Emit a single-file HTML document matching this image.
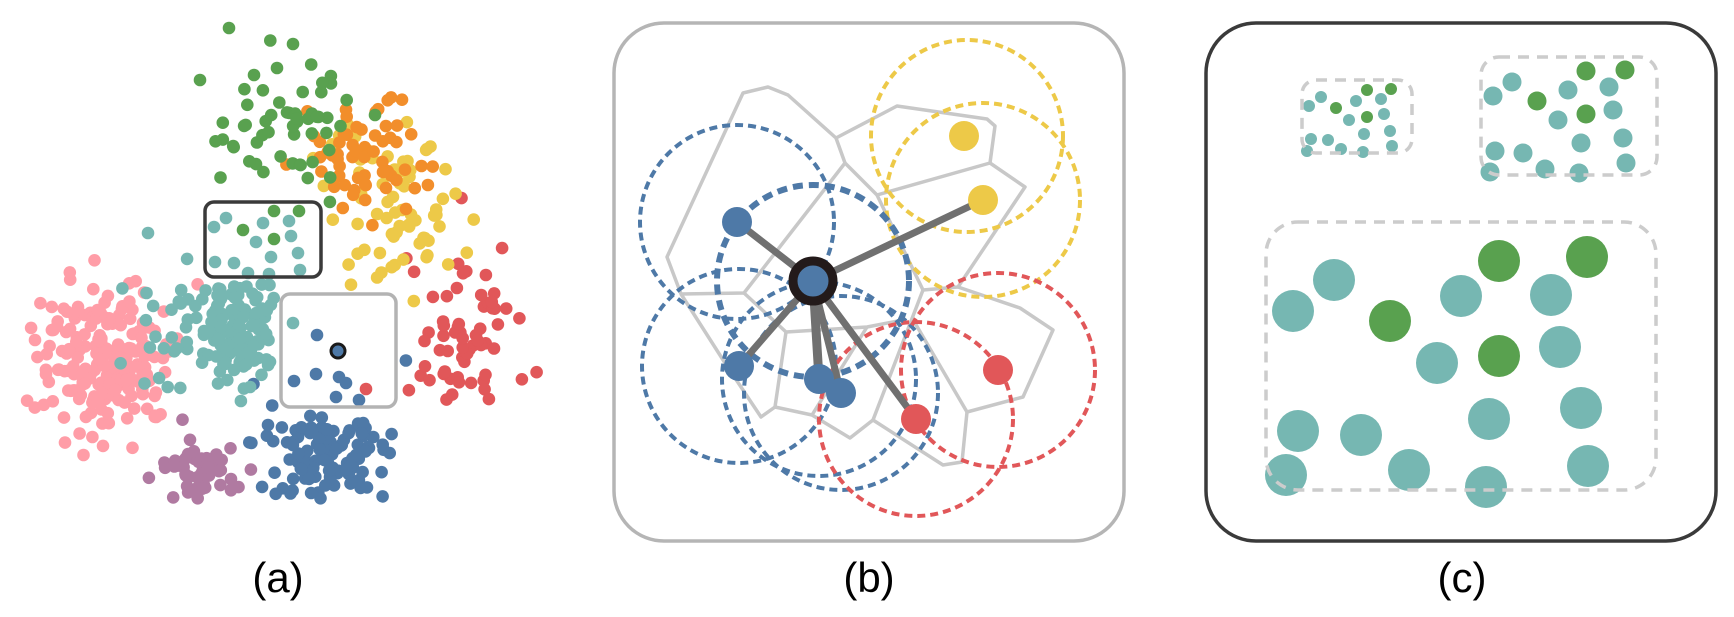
<!DOCTYPE html>
<html><head><meta charset="utf-8">
<style>
html,body{margin:0;padding:0;background:#fff;width:1734px;height:617px;overflow:hidden}
svg{position:absolute;left:0;top:0}
text{font-family:"Liberation Sans",sans-serif}
</style></head><body>
<svg id="s" width="1734" height="617" viewBox="0 0 1734 617" xmlns="http://www.w3.org/2000/svg">
<g id="scatter"></g>
<g id="fixed">
<g fill="#59a14f">
<circle cx="229" cy="28" r="6.3"/><circle cx="293" cy="44" r="6.3"/><circle cx="200" cy="80" r="6.3"/>
<circle cx="254" cy="75" r="6.3"/><circle cx="277" cy="68" r="6.3"/><circle cx="375" cy="115" r="6.3"/>
</g>
<g fill="#76b7b2">
<circle cx="214" cy="227" r="6.3"/><circle cx="226" cy="218" r="6.3"/><circle cx="263" cy="223" r="6.3"/>
<circle cx="289" cy="221" r="6.3"/><circle cx="256" cy="242" r="6.3"/><circle cx="291" cy="236" r="6.3"/>
<circle cx="298" cy="253" r="6.3"/><circle cx="271" cy="257" r="6.3"/><circle cx="215" cy="262" r="6.3"/>
<circle cx="234" cy="263" r="6.3"/><circle cx="300" cy="270" r="6.3"/><circle cx="248" cy="273" r="6.3"/>
<circle cx="269" cy="274" r="6.3"/><circle cx="293" cy="323" r="6.3"/><circle cx="148" cy="233" r="6.3"/>
</g>
<g fill="#59a14f">
<circle cx="243" cy="230" r="6.3"/><circle cx="274" cy="211" r="6.3"/><circle cx="299" cy="211" r="6.3"/><circle cx="274" cy="239" r="6.3"/>
</g>
<g fill="#4e79a7">
<circle cx="317" cy="335" r="6.3"/><circle cx="316" cy="374" r="6.3"/><circle cx="294" cy="381" r="6.3"/>
<circle cx="339" cy="377" r="6.3"/><circle cx="346" cy="383" r="6.3"/><circle cx="336" cy="397" r="6.3"/><circle cx="359" cy="400" r="6.3"/>
</g>
<circle cx="366" cy="389" r="6.3" fill="#e15759"/>
<circle cx="338" cy="351" r="7" fill="#4e79a7" stroke="#1a1a1a" stroke-width="3"/>
<rect x="205" y="202" width="116" height="75" rx="9" fill="none" stroke="#3a3a3a" stroke-width="3.5"/>
<rect x="281" y="294" width="115" height="113" rx="9" fill="none" stroke="#b3b3b3" stroke-width="3.5"/>
</g>

<rect x="614" y="23" width="510" height="518" rx="50" fill="none" stroke="#b5b5b5" stroke-width="3.5"/>
<g fill="none" stroke="#c8c8c8" stroke-width="3.5" stroke-linejoin="round">
<polyline points="845,163 836,138 788,95 768,87 743,93 667,257 681,294 744,293 845,163"/>
<polyline points="836,138 897,106 987,119 995,126 990,163 877,195 845,163"/>
<polyline points="877,195 923,290 958,287 1025,187 990,163"/>
<polyline points="958,287 1020,308 1053,330 1023,397 967,412 962,462 943,465 873,420 923,290"/>
<polyline points="915,323 967,412"/>
<polyline points="744,293 786,332 867,327 903,320"/>
<polyline points="786,332 775,407 812,415 850,438 873,420"/>
<polyline points="867,327 837,375 812,415"/>
<polyline points="681,294 725,363 761,417 775,407"/>
</g>
<g fill="none" stroke-width="4" stroke-dasharray="8 5">
<circle cx="737" cy="222" r="97" stroke="#4e79a7"/>
<circle cx="739" cy="366" r="97" stroke="#4e79a7"/>
<circle cx="819" cy="379" r="97" stroke="#4e79a7"/>
<circle cx="841" cy="393" r="97" stroke="#4e79a7"/>
<circle cx="967" cy="136" r="96" stroke="#edc948"/>
<circle cx="983" cy="200" r="97" stroke="#edc948"/>
<circle cx="998" cy="370" r="97" stroke="#e15759"/>
<circle cx="916" cy="419" r="97" stroke="#e15759"/>
</g>
<circle cx="813" cy="281" r="96" fill="none" stroke="#4e79a7" stroke-width="6" stroke-dasharray="10 6"/>
<g stroke="#707070" stroke-width="7" stroke-linecap="round">
<line x1="813" y1="281" x2="737" y2="222"/>
<line x1="813" y1="281" x2="739" y2="366"/>
<line x1="813" y1="281" x2="819" y2="379" stroke-width="9"/>
<line x1="813" y1="281" x2="841" y2="393"/>
<line x1="813" y1="281" x2="983" y2="200"/>
<line x1="813" y1="281" x2="916" y2="419"/>
</g>
<g fill="#4e79a7">
<circle cx="737" cy="222" r="15"/><circle cx="739" cy="366" r="15"/><circle cx="819" cy="379" r="15"/><circle cx="841" cy="393" r="15"/>
</g>
<circle cx="964" cy="136" r="15" fill="#edc948"/><circle cx="983" cy="200" r="15" fill="#edc948"/>
<circle cx="998" cy="370" r="15" fill="#e15759"/><circle cx="916" cy="419" r="15" fill="#e15759"/>
<circle cx="813" cy="281" r="20" fill="#4e79a7" stroke="#231a1a" stroke-width="9"/>

<rect x="1206" y="23" width="510" height="518" rx="50" fill="none" stroke="#3a3a3a" stroke-width="3.5"/>
<g fill="#76b7b2">
<circle cx="1321" cy="97" r="6"/><circle cx="1309" cy="106" r="6"/><circle cx="1356" cy="101" r="6"/><circle cx="1381" cy="99" r="6"/>
<circle cx="1349" cy="120" r="6"/><circle cx="1384" cy="114" r="6"/><circle cx="1390" cy="131" r="6"/><circle cx="1364" cy="134" r="6"/>
<circle cx="1311" cy="139" r="6"/><circle cx="1328" cy="140" r="6"/><circle cx="1341" cy="149" r="6"/><circle cx="1363" cy="152" r="6"/>
<circle cx="1392" cy="146" r="6"/><circle cx="1307" cy="151" r="6"/>
</g>
<g fill="#59a14f"><circle cx="1336" cy="108" r="6"/><circle cx="1367" cy="90" r="6"/><circle cx="1391" cy="89" r="6"/><circle cx="1367" cy="117" r="6"/></g>
<g fill="#76b7b2">
<circle cx="1493" cy="96" r="9.5"/><circle cx="1512" cy="82" r="9.5"/><circle cx="1568" cy="90" r="9.5"/><circle cx="1609" cy="87" r="9.5"/>
<circle cx="1558" cy="120" r="9.5"/><circle cx="1613" cy="110" r="9.5"/><circle cx="1623" cy="138" r="9.5"/><circle cx="1581" cy="143" r="9.5"/>
<circle cx="1495" cy="151" r="9.5"/><circle cx="1523" cy="153" r="9.5"/><circle cx="1545" cy="169" r="9.5"/><circle cx="1579" cy="173" r="9.5"/>
<circle cx="1626" cy="163" r="9.5"/><circle cx="1490" cy="172" r="9.5"/>
</g>
<g fill="#59a14f"><circle cx="1537" cy="101" r="9.5"/><circle cx="1586" cy="71" r="9.5"/><circle cx="1625" cy="70" r="9.5"/><circle cx="1586" cy="114" r="9.5"/></g>
<g fill="#76b7b2">
<circle cx="1293" cy="311" r="21"/><circle cx="1334" cy="280" r="21"/><circle cx="1461" cy="296" r="21"/><circle cx="1437" cy="363" r="21"/>
<circle cx="1298" cy="431" r="21"/><circle cx="1361" cy="435" r="21"/><circle cx="1286" cy="475" r="21"/><circle cx="1409" cy="470" r="21"/>
<circle cx="1551" cy="295" r="21"/><circle cx="1560" cy="347" r="21"/><circle cx="1489" cy="419" r="21"/><circle cx="1581" cy="408" r="21"/>
<circle cx="1486" cy="487" r="21"/><circle cx="1588" cy="466" r="21"/>
</g>
<g fill="#59a14f"><circle cx="1390" cy="321" r="21"/><circle cx="1499" cy="261" r="21"/><circle cx="1587" cy="257" r="21"/><circle cx="1499" cy="356" r="21"/></g>
<g fill="none" stroke="#cccccc" stroke-width="3.5" stroke-dasharray="11 8">
<rect x="1302" y="80" width="110" height="73" rx="14"/>
<rect x="1481" y="57" width="176" height="118" rx="18"/>
<rect x="1266" y="222" width="390" height="268" rx="32"/>
</g>

<text x="278" y="592" font-size="42" text-anchor="middle" fill="#000">(a)</text>
<text x="869" y="592" font-size="42" text-anchor="middle" fill="#000">(b)</text>
<text x="1462" y="592" font-size="42" text-anchor="middle" fill="#000">(c)</text>
</svg>
<script>
(function(){
var seed=12345;function rnd(){seed=(seed*1103515245+12345)%2147483648;return seed/2147483648;}
function g(){var u=rnd()||1e-6,v=rnd();return Math.sqrt(-2*Math.log(u))*Math.cos(2*Math.PI*v);}
function inBox(x,y){return (x>199&&x<327&&y>196&&y<283)||(x>275&&x<402&&y>288&&y<413);}
var cl=[
["#ff9da7",105,360,34,38,210],
["#b07aa1",201,474,18,16,55],
["#4e79a7",325,445,36,33,140],
["#76b7b2",237,325,22,26,160],
["#76b7b2",160,330,40,35,25],
["#e15759",470,335,45,48,75],
["#edc948",395,215,33,48,75],
["#f28e2b",350,155,35,30,65],
["#59a14f",285,125,32,38,55]];
var s='';
cl.forEach(function(c){for(var i=0;i<c[5];i++){var x=c[1]+g()*c[3],y=c[2]+g()*c[4];
if(inBox(x,y))continue;if(x<20||x>540||y<20||y>500)continue;
s+='<circle cx="'+x.toFixed(1)+'" cy="'+y.toFixed(1)+'" r="6.3" fill="'+c[0]+'"/>';}});
document.getElementById('scatter').innerHTML=s;
})();
</script>
</body></html>
